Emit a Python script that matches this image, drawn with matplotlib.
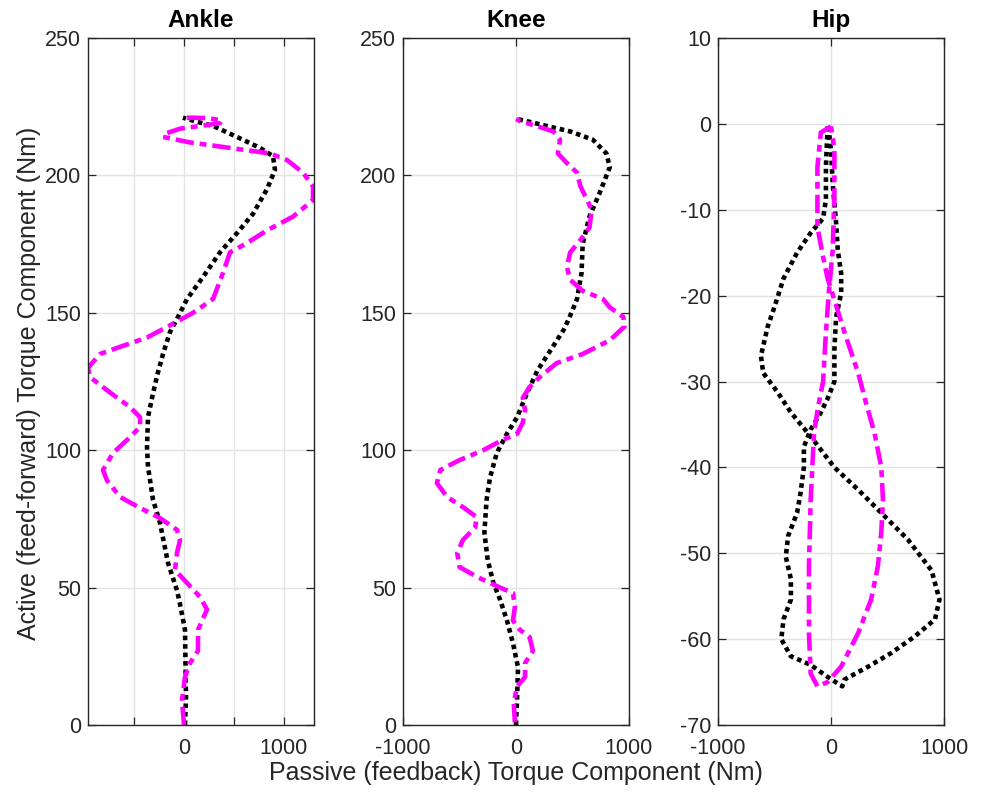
import matplotlib
matplotlib.use("Agg")
import matplotlib.pyplot as plt
import numpy as np

# ---------------- data ----------------
titles = ["Ankle", "Knee", "Hip"]

ankle_passive_x = [10, 20, 10, -40, -70, -160, -240, -310, -360, -370, -360, -320, -270, -210,
                   -140, -60, 30, 190, 360, 530, 690, 830, 910, 890, 760, 530, 290, 130, -10]
ankle_passive_y = [0, 10, 34.6, 44, 49, 59, 73.5, 82, 94, 101, 112, 119, 127, 135,
                   143, 148.5, 155, 163, 172, 179, 186, 195, 202, 207, 210, 214, 218, 219.5, 221]

ankle_active_x = [0, -20, 10, 60, 140, 140, 230, 160, 30, -90, -70, -40, -70, -240, -440, -640,
                  -770, -810, -710, -570, -440, -440, -540, -740, -940, -960, -840, -640, -370,
                  -110, 90, 290, 390, 460, 630, 830, 1090, 1290, 1290, 1190, 1030, 860, 460, 60,
                  -210, -170, -40, 160, 360, 380, 250, 100, 0]
ankle_active_y = [0, 9, 17.5, 22.5, 27, 34.6, 42, 46.6, 51.7, 56.4, 62.6, 67.3, 71, 75.3, 79, 83,
                  89, 92.8, 99, 103.7, 108.4, 112, 115.7, 121, 126.6, 130, 135, 137.6, 141,
                  146, 150, 155, 164.5, 172, 175.4, 180, 185, 191, 196, 201, 205.6, 208, 210, 212,
                  214, 215.4, 217, 218, 219, 220, 220.8, 221, 221]

knee_passive_x = [0, 9, 18, -27, -80, -140, -200, -250, -280, -260, -230, -170, -80, 10, 100, 190,
                  300, 420, 470, 540, 580, 590, 650, 740, 830, 800, 680, 480, 270, 120, 10]
knee_passive_y = [0, 9, 21, 29.8, 38, 45.5, 51.7, 60, 70, 82, 90, 99, 106, 112, 121, 129,
                  136, 143.7, 148, 155, 164.5, 175, 185, 193.6, 203, 208, 213, 216, 218, 219.5, 220.5]

knee_active_x = [-10, -20, 10, 80, 80, 150, 120, 35, -27, -10, -27, -140, -350, -500, -520, -470,
                 -360, -350, -470, -610, -700, -670, -500, -290, -120, 10, 60, 80, 60, 120, 210,
                 360, 590, 830, 960, 950, 830, 770, 590, 480, 450, 480, 570, 650, 670, 630, 570,
                 540, 450, 370, 390, 330, 210, 35, 0]
knee_active_y = [1, 8, 14, 17.5, 22.5, 27, 32, 34.6, 38, 43, 48, 50, 54, 57.5, 62.6, 67.3,
                 72, 75.7, 79.3, 83, 88, 92.8, 96.4, 100, 103.7, 106, 110, 114.6, 119, 123, 126.6,
                 131.7, 135, 140, 145, 148.5, 152, 155, 158, 162, 166.7, 172, 176.5, 181, 187.4, 191, 196,
                 201, 204.5, 208, 213, 216, 217.6, 219.8, 220.5]

hip_passive_x = [-30, -45, -45, -70, -180, -300, -420, -500, -560, -620, -600, -470, -355, -180, 30,
                 240, 445, 680, 890, 960, 920, 740, 535, 330, 120, 100, -30, -180, -355, -440, -420,
                 -355, -355, -400, -380, -300, -270, -240, -240, -180, -90, -30, 30, 30, 45, 90, 90,
                 60, 45, 15, 0, -20, -30]
hip_passive_y = [-0.3, -5, -8.8, -11, -12.7, -15, -18, -21.3, -23.6, -27, -29, -31.3, -33.6, -36.4, -40,
                 -42.6, -45.3, -48.4, -52, -55.4, -57.7, -59.7, -61.6, -63.2, -64.7, -65.5, -64.4, -63, -62, -60, -57.7,
                 -55.4, -53, -50.4, -48, -45.3, -43, -40, -37.6, -35.6, -33.6, -32, -30, -26.3, -22.5, -19.7, -17.4,
                 -14.7, -11.5, -6.9, -3, -0.7, -0.3]

hip_active_x = [0, -90, -120, -120, -120, -70, -30, 30, 120, 240, 310, 385, 445, 460, 445, 415, 355,
                240, 90, -30, -120, -180, -195, -195, -180, -150, -115, -70, -45, -20, 15, 30, 30, 0]
hip_active_y = [-0.3, -1, -5, -8.8, -12, -15.5, -18, -20.5, -24.3, -29, -32.5, -36, -40, -43.8, -47.6, -51.5, -55.4,
                -59.3, -63.2, -65, -65.5, -64, -59.3, -51.5, -43.8, -36, -33, -30, -24.3, -19.7, -14.7, -8.8, -3, -0.3]

xlims = [(-960, 1300), (-1000, 1000), (-1000, 1000)]
ylims = [(0, 250), (0, 250), (-70, 10)]
xticks = [[-500, 0, 500, 1000], [-1000, 0, 1000], [-1000, 0, 1000]]
xticklabels = [["", "0", "", "1000"], ["-1000", "0", "1000"], ["-1000", "0", "1000"]]
yticks = [list(range(0, 251, 50)), list(range(0, 251, 50)), list(range(-70, 11, 10))]

passive = [(ankle_passive_x, ankle_passive_y), (knee_passive_x, knee_passive_y), (hip_passive_x, hip_passive_y)]
active = [(ankle_active_x, ankle_active_y), (knee_active_x, knee_active_y), (hip_active_x, hip_active_y)]

# ---------------- figure ----------------
plt.rcParams['font.family'] = ['Liberation Sans', 'DejaVu Sans']
plt.rcParams['axes.unicode_minus'] = False
W, H = 982, 792
fig = plt.figure(figsize=(W / 100, H / 100), dpi=100)
fig.patch.set_facecolor('white')

lefts = [88, 403, 718]
axw = 226
top_px, bot_px = 38, 725
axc = '#262626'

for i in range(3):
    ax = fig.add_axes([lefts[i] / W, (H - bot_px) / H, axw / W, (bot_px - top_px) / H])
    ax.set_xlim(*xlims[i])
    ax.set_ylim(*ylims[i])
    ax.set_xticks(xticks[i])
    ax.set_xticklabels(xticklabels[i])
    ax.set_yticks(yticks[i])
    ax.grid(True, color='#e3e3e3', linewidth=1.0)
    ax.set_axisbelow(True)
    ax.tick_params(direction='in', top=True, right=True, length=5.5, width=0.9,
                   colors=axc, labelsize=15.5)
    ax.tick_params(axis='x', pad=9)
    ax.tick_params(axis='y', pad=5)
    for s in ax.spines.values():
        s.set_color(axc)
        s.set_linewidth(1.0)
    ax.plot(passive[i][0], passive[i][1], color='black', linewidth=3.3,
            linestyle=(0, (1, 0.85)), dash_capstyle='butt', solid_joinstyle='round')
    ax.plot(active[i][0], active[i][1], color='#FF00FF', linewidth=3.3,
            linestyle=(0, (4.0, 1.3, 1.5, 1.3)), dash_capstyle='butt', solid_joinstyle='round')
    ax.set_title(titles[i], fontsize=17.5, fontweight='bold', color='black', pad=8)

fig.text(516 / W, 1 - 773 / H, "Passive (feedback) Torque Component (Nm)",
         ha='center', va='center', fontsize=18, color=axc)
fig.text(29 / W, 1 - 383 / H, "Active (feed-forward) Torque Component (Nm)",
         ha='center', va='center', rotation=90, fontsize=18, color=axc)

fig.savefig("out.png", dpi=100, facecolor='white')
